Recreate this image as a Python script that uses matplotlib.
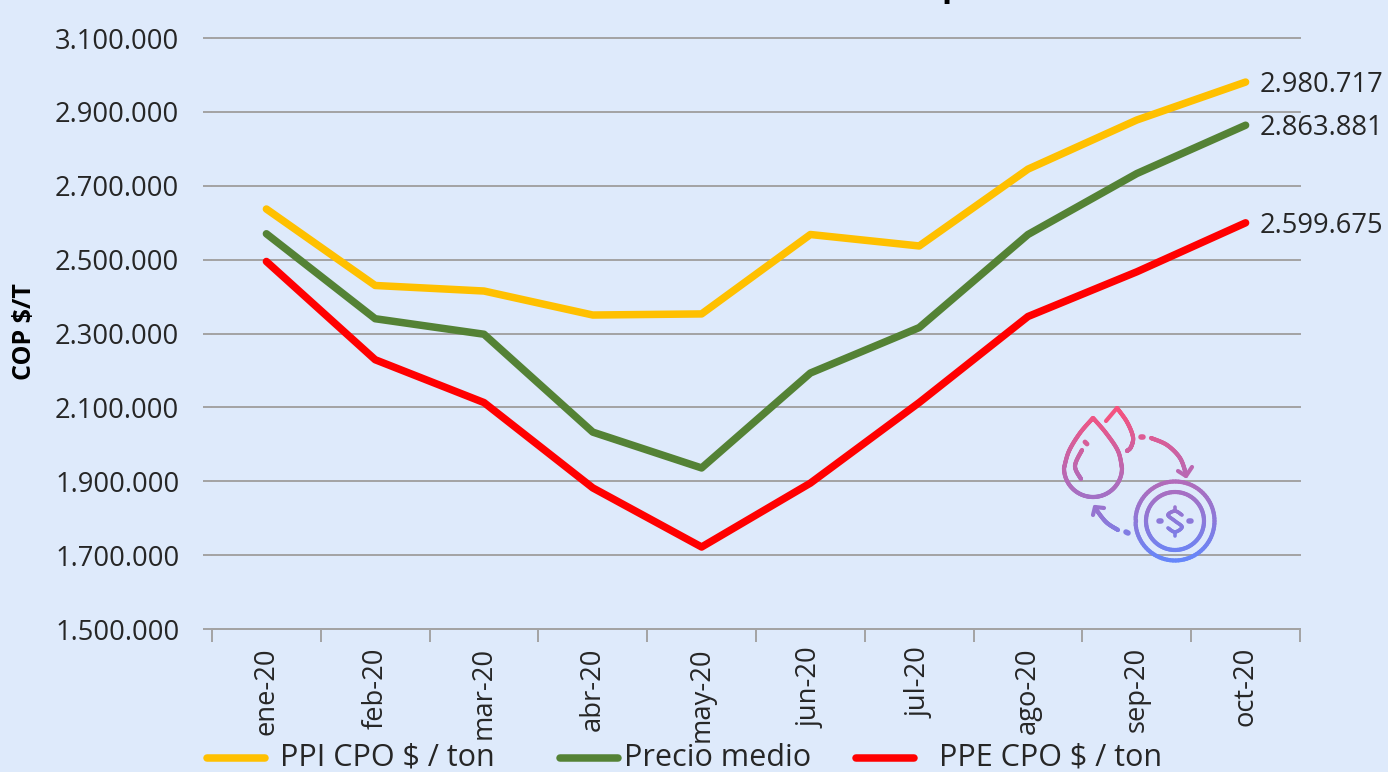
import numpy as np
import matplotlib
matplotlib.use("Agg")
import matplotlib.pyplot as plt
from matplotlib.collections import LineCollection
from matplotlib.transforms import ScaledTranslation

plt.rcParams['font.family'] = ['Open Sans', 'DejaVu Sans']

months = ["ene-20", "feb-20", "mar-20", "abr-20", "may-20",
          "jun-20", "jul-20", "ago-20", "sep-20", "oct-20"]
ppi = [2637000, 2430000, 2415000, 2350000, 2353000,
       2568000, 2537000, 2745000, 2878000, 2980717]
medio = [2570000, 2340000, 2298000, 2033000, 1936000,
         2193000, 2316000, 2568000, 2733000, 2863881]
ppe = [2495000, 2229000, 2113000, 1882000, 1722000,
       1895000, 2113000, 2346000, 2467000, 2599675]
y_ticks = [1500000, 1700000, 1900000, 2100000, 2300000,
           2500000, 2700000, 2900000, 3100000]
names = ["PPI CPO $ / ton", "Precio medio", "PPE CPO $ / ton"]
colors = ["#FFC000", "#548235", "#FF0000"]

W, H = 1388, 772
bg = "#DEEAFB"
grid = "#A3A3A3"
text_c = "#262626"

fig = plt.figure(figsize=(W / 100, H / 100), dpi=100, facecolor=bg)
ax = fig.add_axes([212 / W, 1 - 629 / H, (1300 - 212) / W, (629 - 38) / H], facecolor=bg)

x = np.arange(len(months))
for vals, c in zip([ppi, medio, ppe], colors):
    ax.plot(x, vals, color=c, lw=5.4, solid_capstyle='round', solid_joinstyle='round', zorder=3)

ax.set_xlim(-0.5, len(months) - 0.5)
ax.set_ylim(y_ticks[0], y_ticks[-1])
ax.set_yticks(y_ticks)
ax.set_yticklabels([f"{v:,}".replace(",", ".") for v in y_ticks], fontsize=19.7, color=text_c)
for lab in ax.get_yticklabels():
    lab.set_transform(lab.get_transform() + ScaledTranslation(0, 1.5 / 72, fig.dpi_scale_trans))
ax.yaxis.grid(True, color=grid, lw=1.4, clip_on=False)
ax.set_axisbelow(True)
ax.tick_params(axis='y', length=6.5, width=1.4, color=grid, pad=17)

# ticks sit between the months, labels on the months
ax.set_xticks(np.arange(len(months) + 1) - 0.5)
ax.set_xticklabels([])
ax.set_xticks(x, minor=True)
ax.set_xticklabels(months, minor=True, rotation=90, fontsize=19.7, color=text_c)
ax.tick_params(axis='x', which='major', length=9, width=1.4, color=grid)
ax.tick_params(axis='x', which='minor', length=0, pad=13)

for s in ['top', 'right', 'left']:
    ax.spines[s].set_visible(False)
ax.spines['bottom'].set_color(grid)
ax.spines['bottom'].set_linewidth(1.4)

for vals in [ppi, medio, ppe]:
    ax.annotate(f"{vals[-1]:,}".replace(",", "."), (x[-1], vals[-1]), xytext=(10, -2),
                textcoords='offset points', va='center', ha='left',
                fontsize=19.7, color=text_c, annotation_clip=False, zorder=5)

ax.set_ylabel("COP $/T", fontsize=18, fontweight='bold', color='black')
ax.yaxis.set_label_coords((37 - 212) / (1300 - 212), (629 - 332) / 591)

# overlay in image pixels for the legend, cut-off title and icon
ov = fig.add_axes([0, 0, 1, 1], facecolor='none', zorder=10)
ov.set_xlim(0, W)
ov.set_ylim(H, 0)
ov.axis('off')

leg_lines = [(207, 265), (560, 618), (856, 914)]
leg_text = [280, 624, 939]
for name, c, (x0, x1), tx in zip(names, colors, leg_lines, leg_text):
    ov.plot([x0, x1], [758, 758], color=c, lw=5.4, solid_capstyle='round')
    ov.text(tx, 758, name, fontsize=22, color=text_c, va='center', ha='left')

# only the descender of the title survives the crop
ov.text(952, -12, "p", fontsize=24, fontweight='bold', color='black', ha='center', va='center')

# icon: strokes with a top to bottom gradient
top_c = np.array(matplotlib.colors.to_rgb("#F9517C"))
bot_c = np.array(matplotlib.colors.to_rgb("#6587FB"))


def stroke(px, py, lw=3.0):
    px, py = np.asarray(px, float), np.asarray(py, float)
    segs = [[(px[i], py[i]), (px[i + 1], py[i + 1])] for i in range(len(px) - 1)]
    t = np.clip(((py[:-1] + py[1:]) / 2 - 408) / (561 - 408), 0, 1)[:, None]
    lc = LineCollection(segs, colors=top_c * (1 - t) + bot_c * t, linewidths=lw, capstyle='round')
    ov.add_collection(lc)


def smooth(pts, n=24):
    # Catmull-Rom through a few hand placed points
    pts = np.array([pts[0]] + list(pts) + [pts[-1]], float)
    out = []
    for i in range(1, len(pts) - 2):
        p0, p1, p2, p3 = pts[i - 1], pts[i], pts[i + 1], pts[i + 2]
        for t in np.linspace(0, 1, n):
            out.append(0.5 * (2 * p1 + (p2 - p0) * t + (2 * p0 - 5 * p1 + 4 * p2 - p3) * t ** 2
                              + (3 * p1 - p0 - 3 * p2 + p3) * t ** 3))
    out = np.array(out)
    return out[:, 0], out[:, 1]


def arc(cx, cy, r, a0=0, a1=360, n=90):
    a = np.radians(np.linspace(a0, a1, n))
    return cx + r * np.cos(a), cy + r * np.sin(a)


# big drop
stroke(*smooth([(1093, 418), (1080, 433), (1069, 451), (1064, 468)]))
stroke(*smooth([(1093, 418), (1106, 433), (1118, 451), (1122, 468)]))
stroke(*arc(1093, 468, 29, 0, 180))
stroke(*smooth([(1082, 450), (1075, 466), (1081, 479)]))
stroke([1085, 1087], [442, 444], lw=3.5)
# back drop
stroke([1106, 1117], [421, 408])
stroke(*smooth([(1117, 408), (1127, 422), (1133, 437), (1131, 447), (1127, 451)]))
# arrow to the coin
stroke([1141, 1143], [437, 437], lw=4)
stroke(*smooth([(1151, 438), (1167, 445), (1180, 458), (1186, 474)]))
stroke([1178, 1186, 1192], [471, 476, 467])
# coin
stroke(*arc(1175, 521, 39.5))
stroke(*arc(1175, 521, 29))
stroke([1159, 1161], [521, 521], lw=4)
stroke([1189, 1191], [521, 521], lw=4)
stroke(*smooth([(1182, 515), (1175, 511), (1168, 515), (1175, 521), (1182, 527), (1175, 532), (1168, 528)], n=10), lw=2.6)
stroke([1175, 1175], [507, 511], lw=2.6)
stroke([1175, 1175], [532, 536], lw=2.6)
# arrow to the drop
stroke([1126, 1128], [532, 533], lw=4)
stroke(*smooth([(1118, 530), (1106, 522), (1095, 508)]))
stroke([1093, 1095, 1104], [515, 507, 508])

fig.savefig("out.png", dpi=100, facecolor=bg)
